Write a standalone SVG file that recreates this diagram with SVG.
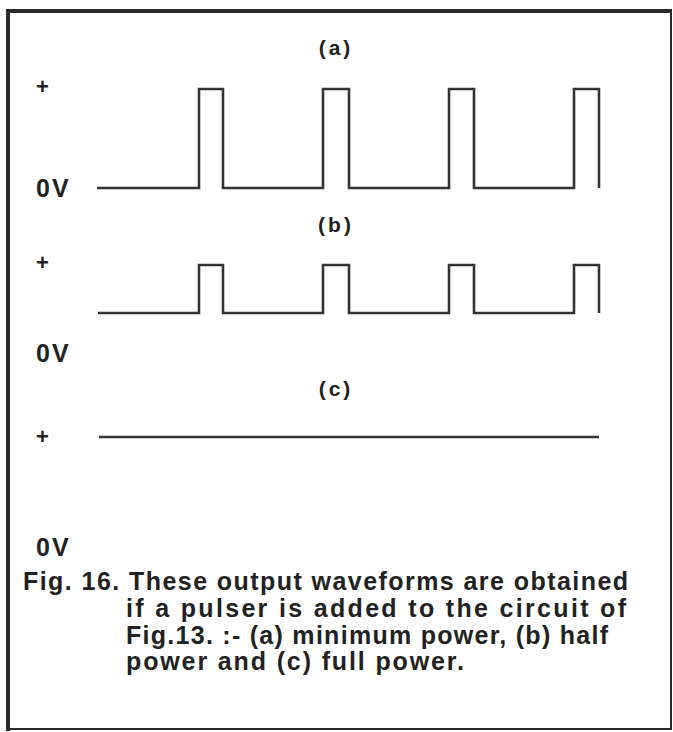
<svg xmlns="http://www.w3.org/2000/svg" width="673" height="732" viewBox="0 0 673 732">
<style>
.wave{fill:none;stroke:#333;stroke-width:2.6;stroke-linejoin:miter}
.lbl{font-family:"Liberation Sans",Arial,sans-serif;font-weight:bold;fill:#222}
.pm{font-size:22px}
.ov{font-size:25px;letter-spacing:2px}
.tag{font-size:21px;letter-spacing:3px;text-anchor:middle}
.cap{font-family:"Liberation Sans",Arial,sans-serif;font-weight:bold;font-size:25px;fill:#222}
</style>
<rect x="0" y="0" width="673" height="732" fill="#fff"/>
<g id="frame" fill="none" stroke="#2a2a2a">
<line x1="6" y1="11" x2="672" y2="11" stroke-width="4"/>
<line x1="8" y1="9" x2="8" y2="731" stroke-width="4"/>
<line x1="671" y1="11" x2="671" y2="730" stroke-width="2"/>
<line x1="8" y1="729" x2="672" y2="729" stroke-width="2"/>
</g>
<g id="panel-a">
<text class="lbl tag" x="336" y="55">(a)</text>
<text class="lbl pm" x="36" y="94">+</text>
<text class="lbl ov" x="36" y="197">0V</text>
<path class="wave" d="M97,188 H199 V89 H223 V188 H323 V89 H349 V188 H449 V89 H474 V188 H574 V89 H599 V188"/>
</g>
<g id="panel-b">
<text class="lbl tag" x="336" y="232">(b)</text>
<text class="lbl pm" x="36" y="270">+</text>
<text class="lbl ov" x="36" y="362">0V</text>
<path class="wave" d="M98,313 H199 V265 H223 V313 H323 V265 H349 V313 H449 V265 H474 V313 H574 V265 H599 V313"/>
</g>
<g id="panel-c">
<text class="lbl tag" x="336" y="396">(c)</text>
<text class="lbl pm" x="36" y="444">+</text>
<text class="lbl ov" x="36" y="556">0V</text>
<path class="wave" d="M99,437 H599"/>
</g>
<g id="caption">
<text class="cap" x="23" y="590" textLength="605" lengthAdjust="spacing">Fig. 16. These output waveforms are obtained</text>
<text class="cap" x="126" y="617" textLength="500" lengthAdjust="spacing">if a pulser is added to the circuit of</text>
<text class="cap" x="126" y="644" textLength="482" lengthAdjust="spacing">Fig.13. :- (a) minimum power, (b) half</text>
<text class="cap" x="126" y="670" textLength="338" lengthAdjust="spacing">power and (c) full power.</text>
</g>
</svg>
